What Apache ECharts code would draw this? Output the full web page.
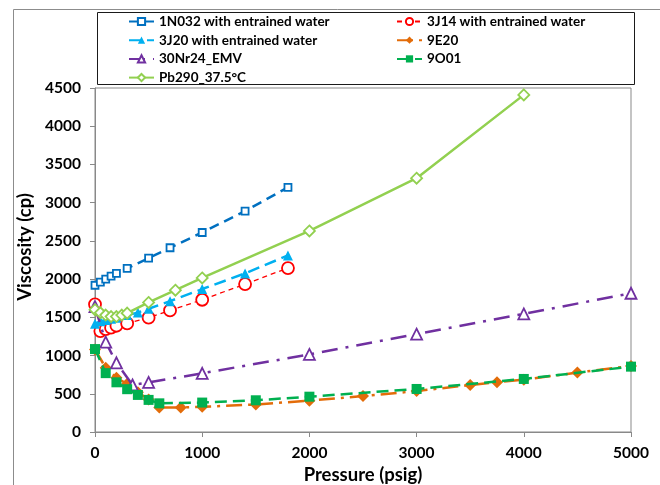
<!DOCTYPE html>
<html>
<head>
<meta charset="utf-8">
<script src="https://cdn.jsdelivr.net/npm/echarts@6/dist/echarts.min.js"></script>
<style>
  html, body { margin: 0; padding: 0; background: #fff; }
  #chart { width: 660px; height: 485px; }
</style>
</head>
<body>
<div id="chart"></div>
<script>
// Axis ticks
const xTicks = [0, 1000, 2000, 3000, 4000, 5000];
const yTicks = [0, 500, 1000, 1500, 2000, 2500, 3000, 3500, 4000, 4500];

// Pressure (psig) / viscosity (cp) per sample
const p1N032 = [0, 50, 100, 150, 200, 300, 500, 700, 1000, 1400, 1800];
const v1N032 = [1920, 1960, 2000, 2040, 2075, 2140, 2275, 2410, 2610, 2890, 3200];

const p3J14 = [0, 50, 100, 150, 200, 300, 500, 700, 1000, 1400, 1800];
const v3J14 = [1670, 1320, 1345, 1365, 1390, 1420, 1495, 1590, 1730, 1935, 2145];

const p3J20 = [0, 50, 100, 150, 200, 300, 400, 500, 700, 1000, 1400, 1800];
const v3J20 = [1415, 1450, 1465, 1480, 1495, 1530, 1562, 1612, 1712, 1870, 2075, 2310];

const p9E20 = [0, 100, 200, 300, 400, 500, 600, 800, 1000, 1500, 2000, 2500, 3000, 3500, 3750, 4000, 4500, 5000];
const v9E20 = [1080, 840, 710, 630, 520, 425, 320, 320, 330, 360, 410, 470, 535, 615, 650, 685, 777, 864];

const p30Nr24 = [0, 100, 200, 350, 500, 1000, 2000, 3000, 4000, 5000];
const v30Nr24 = [1640, 1175, 905, 615, 648, 768, 1015, 1280, 1545, 1815];

const p9O01 = [0, 100, 200, 300, 400, 500, 600, 1000, 1500, 2000, 3000, 4000, 5000];
const v9O01 = [1085, 770, 650, 560, 485, 420, 375, 385, 415, 462, 563, 694, 855];

const pPb290 = [0, 50, 100, 150, 200, 250, 300, 500, 750, 1000, 2000, 3000, 4000];
const vPb290 = [1600, 1560, 1530, 1510, 1510, 1530, 1555, 1695, 1855, 2015, 2630, 3320, 4410];

const names = {
  n1N032: '1N032 with entrained water',
  n3J14: '3J14 with entrained water',
  n3J20: '3J20 with entrained water',
  n9E20: '9E20',
  n30Nr24: '30Nr24_EMV',
  n9O01: '9O01',
  nPb290: 'Pb290_37.5°C'
};

const FONT = 'Lato, "Open Sans", sans-serif';
const pairs = (xs, ys) => xs.map((x, i) => [x, ys[i]]);

function lineSeries(name, xs, ys, color, dash, width, symbol, size, filled, z) {
  return {
    name: name,
    type: 'line',
    data: pairs(xs, ys),
    z: z,
    symbol: symbol,
    symbolSize: size,
    showSymbol: true,
    lineStyle: { color: color, width: width, type: dash },
    itemStyle: filled
      ? { color: color, borderColor: color, borderWidth: 0 }
      : { color: '#ffffff', borderColor: color, borderWidth: 1.8 },
    emphasis: { disabled: true }
  };
}

const chart = echarts.init(document.getElementById('chart'), null, { renderer: 'canvas' });

const axisGray = '#898989';
const legendText = { fontFamily: FONT, fontWeight: 'bold', fontSize: 13.5, color: '#000', lineHeight: 15 };

const option = {
  animation: false,
  backgroundColor: '#ffffff',
  textStyle: { fontFamily: FONT },
  grid: {
    left: 95, right: 29, top: 88, bottom: 53,
    outerBoundsMode: 'none',
    containLabel: false,
    show: true, borderColor: axisGray, borderWidth: 1, backgroundColor: 'transparent'
  },
  xAxis: {
    type: 'value',
    min: xTicks[0], max: xTicks[xTicks.length - 1], interval: 1000,
    name: 'Pressure (psig)',
    nameLocation: 'middle',
    nameGap: 31,
    nameTextStyle: { fontFamily: FONT, fontWeight: 'bold', fontSize: 18.5, color: '#000' },
    axisLine: { show: true, lineStyle: { color: axisGray, width: 1 } },
    axisTick: { show: true, length: 5, lineStyle: { color: axisGray } },
    axisLabel: { fontFamily: FONT, fontWeight: 'bold', fontSize: 15.5, color: '#000', margin: 13,
      formatter: v => String(v) },
    splitLine: { show: false }
  },
  yAxis: {
    type: 'value',
    min: yTicks[0], max: yTicks[yTicks.length - 1], interval: 500,
    name: 'Viscosity (cp)',
    nameLocation: 'middle',
    nameGap: 54,
    nameRotate: 90,
    nameTextStyle: { fontFamily: FONT, fontWeight: 'bold', fontSize: 18.5, color: '#000',
      padding: [0, 0, 0, 26] },
    axisLine: { show: true, lineStyle: { color: axisGray, width: 1 } },
    axisTick: { show: true, length: 5, lineStyle: { color: axisGray } },
    axisLabel: { fontFamily: FONT, fontWeight: 'bold', fontSize: 15.5, color: '#000', margin: 14,
      formatter: v => String(v) },
    splitLine: { show: false }
  },
  legend: [
    {
      data: [names.n1N032, names.n3J20, names.n30Nr24, names.nPb290],
      orient: 'vertical', left: 123, top: 9, itemGap: 3.7,
      itemWidth: 25, itemHeight: 9,
      textStyle: legendText
    },
    {
      data: [names.n3J14, names.n9E20, names.n9O01],
      orient: 'vertical', left: 391, top: 9, itemGap: 3.7,
      itemWidth: 25, itemHeight: 9,
      textStyle: legendText
    }
  ],
  graphic: [
    { type: 'rect', silent: true, shape: { x: 13.5, y: 9.5, width: 700, height: 600 },
      style: { fill: 'none', stroke: '#8c8c8c', lineWidth: 1 } },
    { type: 'rect', silent: true, shape: { x: 97.5, y: 12.5, width: 537, height: 72 },
      style: { fill: 'none', stroke: '#1a1a1a', lineWidth: 1 } }
  ],
  series: [
    lineSeries(names.n1N032, p1N032, v1N032, '#0070C0', [10, 6], 2.5, 'rect', 7, false, 2),
    lineSeries(names.n3J14, p3J14, v3J14, '#FF0000', [5, 4], 1.3, 'circle', 12, false, 3),
    lineSeries(names.n3J20, p3J20, v3J20, '#00B0F0', [12, 6], 2.5, 'triangle', 10, true, 4),
    lineSeries(names.n9E20, p9E20, v9E20, '#E36C09', [16, 6, 3, 6], 2.5, 'diamond', 12, true, 5),
    lineSeries(names.n30Nr24, p30Nr24, v30Nr24, '#7030A0', [16, 8, 3, 8], 2.5, 'triangle', 11, false, 6),
    lineSeries(names.n9O01, p9O01, v9O01, '#00B050', [12, 6], 2.5, 'rect', 10, true, 7),
    lineSeries(names.nPb290, pPb290, vPb290, '#92D050', 'solid', 2.5, 'diamond', 11, false, 8)
  ]
};

chart.setOption(option);
</script>
</body>
</html>
